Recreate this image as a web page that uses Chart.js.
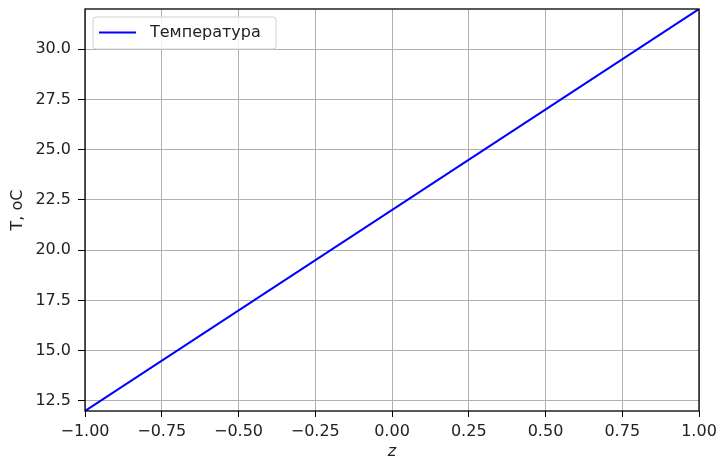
<!DOCTYPE html>
<html lang="ru">
<head>
    <meta charset="UTF-8">
    <title>Температура</title>
    <script src="https://cdn.jsdelivr.net/npm/chart.js"></script>
    <style>
        body { margin: 0; background: #fff; }
        #grafico { display: block; }
    </style>
</head>
<body>
    <canvas id="grafico" width="720" height="461"></canvas>
<script>
    // dados
    var zValores = [-1, 1];
    var temperaturas = [12, 32];
    var ticksX = [-1, -0.75, -0.5, -0.25, 0, 0.25, 0.5, 0.75, 1];
    var ticksY = [12.5, 15, 17.5, 20, 22.5, 25, 27.5, 30];

    var fonte = { family: 'DejaVu Sans', size: 16 };

    // moldura preta + legenda dentro da área do gráfico
    var molduraLegenda = {
        id: 'molduraLegenda',
        afterDatasetsDraw: function (chart) {
            var ctx = chart.ctx;
            var a = chart.chartArea;
            ctx.save();
            ctx.strokeStyle = '#000';
            ctx.lineWidth = 1.3;
            ctx.strokeRect(a.left, a.top, a.right - a.left, a.bottom - a.top);

            // legenda
            var x = a.left + 8, y = a.top + 8, w = 183, h = 32;
            ctx.fillStyle = 'rgba(255,255,255,0.85)';
            ctx.strokeStyle = '#d0d0d0';
            ctx.lineWidth = 1;
            ctx.beginPath();
            ctx.roundRect(x, y, w, h, 3);
            ctx.fill();
            ctx.stroke();

            var ds = chart.data.datasets[0];
            ctx.strokeStyle = ds.borderColor;
            ctx.lineWidth = 2;
            ctx.beginPath();
            ctx.moveTo(x + 6, y + 15.5);
            ctx.lineTo(x + 43, y + 15.5);
            ctx.stroke();

            ctx.fillStyle = '#222';
            ctx.font = '16px "DejaVu Sans"';
            ctx.textBaseline = 'middle';
            ctx.fillText(ds.label, x + 57, y + 16);
            ctx.restore();
        }
    };

    new Chart(document.getElementById('grafico').getContext('2d'), {
        type: 'line',
        data: {
            datasets: [{
                label: 'Температура',
                data: zValores.map(function (z, i) { return { x: z, y: temperaturas[i] }; }),
                borderColor: '#0000ff',
                borderWidth: 2,
                pointRadius: 0,
                fill: false,
                tension: 0
            }]
        },
        options: {
            responsive: false,
            animation: false,
            layout: { padding: { top: 9, right: 21, left: 0, bottom: 0 } },
            plugins: {
                legend: { display: false },
                tooltip: { enabled: false }
            },
            scales: {
                x: {
                    type: 'linear',
                    min: -1,
                    max: 1,
                    afterBuildTicks: function (scale) {
                        scale.ticks = ticksX.map(function (v) { return { value: v }; });
                    },
                    afterFit: function (scale) {
                        scale.height = 50;
                        scale.paddingLeft = 0;
                        scale.paddingRight = 0;
                    },
                    grid: { color: '#b0b0b0', lineWidth: 1, tickColor: '#000', tickLength: 6 },
                    border: { display: false },
                    ticks: {
                        color: '#222',
                        font: fonte,
                        padding: 5,
                        maxRotation: 0,
                        callback: function (v) { return v.toFixed(2).replace('-', '\u2212'); }
                    },
                    title: {
                        display: true,
                        text: 'z',
                        color: '#222',
                        font: { family: 'DejaVu Sans', size: 16, style: 'italic' },
                        padding: { top: 0, bottom: 0 }
                    }
                },
                y: {
                    min: 12,
                    max: 32,
                    afterBuildTicks: function (scale) {
                        scale.ticks = ticksY.map(function (v) { return { value: v }; });
                    },
                    afterFit: function (scale) {
                        scale.width = 85;
                        scale.paddingTop = 0;
                        scale.paddingBottom = 0;
                    },
                    grid: { color: '#b0b0b0', lineWidth: 1, tickColor: '#000', tickLength: 7 },
                    border: { display: false },
                    ticks: {
                        color: '#222',
                        font: fonte,
                        padding: 7,
                        callback: function (v) { return v.toFixed(1); }
                    },
                    title: {
                        display: true,
                        text: 'T, oC',
                        color: '#222',
                        font: fonte,
                        padding: { top: 8, bottom: 0 }
                    }
                }
            }
        },
        plugins: [molduraLegenda]
    });
</script>
</body>
</html>
